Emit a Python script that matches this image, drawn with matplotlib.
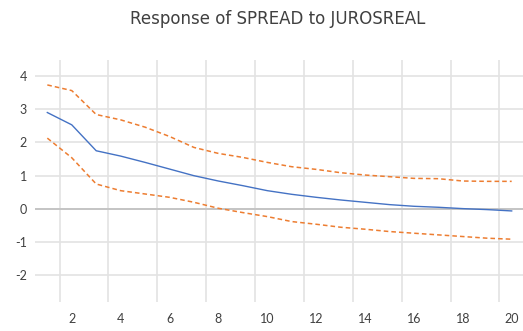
import numpy as np
import matplotlib
matplotlib.use("Agg")
import matplotlib.pyplot as plt

# impulse response
periods = np.arange(1, 21)
response = [2.90, 2.53, 1.75, 1.59, 1.40, 1.20, 1.00, 0.84, 0.70, 0.55,
            0.44, 0.35, 0.27, 0.20, 0.13, 0.08, 0.05, 0.01, -0.02, -0.06]
upper = [3.73, 3.56, 2.84, 2.68, 2.46, 2.18, 1.85, 1.67, 1.55, 1.40,
         1.27, 1.19, 1.09, 1.02, 0.97, 0.92, 0.91, 0.84, 0.83, 0.83]
lower = [2.13, 1.54, 0.75, 0.55, 0.45, 0.35, 0.20, 0.02, -0.11, -0.23,
         -0.38, -0.46, -0.55, -0.61, -0.68, -0.73, -0.78, -0.83, -0.88, -0.91]
x_labels = [str(p) for p in range(2, 21, 2)]
y_ticks = [-2, -1, 0, 1, 2, 3, 4]

plt.rcParams['font.family'] = ['Lato', 'DejaVu Sans']

fig = plt.figure(figsize=(5.23, 3.31), dpi=100)
ax = fig.add_axes([35.1 / 523, 29.3 / 331, 488.8 / 523, 241.7 / 331])

ax.plot(periods, response, color='#4472C4', lw=1.0, zorder=3)
ax.plot(periods, upper, color='#ED7D31', lw=1.1, ls=(0, (3, 2)), zorder=3)
ax.plot(periods, lower, color='#ED7D31', lw=1.1, ls=(0, (3, 2)), zorder=3)
ax.axhline(0, color='#bfbfbf', lw=1.2, zorder=2)

ax.set_xlim(0.5, 20.5)
ax.set_ylim(-2.79, 4.48)
ax.set_xticks(range(2, 21, 2))
ax.set_xticklabels(x_labels)
ax.set_xticks(np.arange(1.5, 20, 2), minor=True)
ax.set_yticks(y_ticks)
ax.set_yticklabels([str(v) for v in y_ticks])

ax.grid(False)
ax.grid(which='minor', axis='x', color='#e3e3e3', lw=1.2)
ax.grid(which='major', axis='y', color='#e3e3e3', lw=1.2)
ax.set_axisbelow(True)

ax.tick_params(which='both', length=0)
ax.tick_params(axis='x', pad=8, labelsize=9, colors='#404040')
ax.tick_params(axis='y', pad=6, labelsize=9, colors='#404040')
for s in ax.spines.values():
    s.set_visible(False)

fig.text(278 / 523, 1 - 19 / 331, 'Response of SPREAD to JUROSREAL', ha='center',
         va='center', fontsize=12, color='#404040', family='DejaVu Sans')

fig.savefig('out.png', dpi=100)
